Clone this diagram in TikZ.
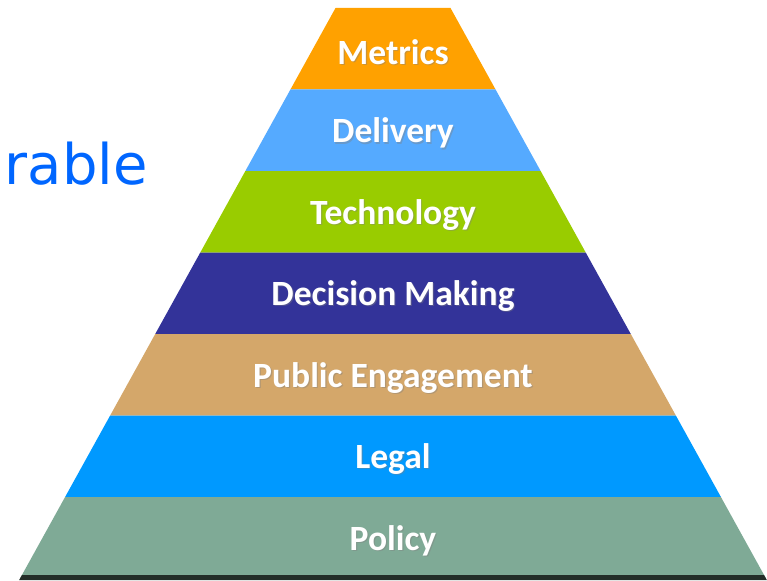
\documentclass[tikz,border=0pt]{standalone}
\usepackage{fontspec}
\setmainfont{Carlito}
\newfontfamily\titlefont{DejaVu Sans}
\definecolor{cMet}{RGB}{255,161,0}
\definecolor{cDel}{RGB}{85,170,255}
\definecolor{cTec}{RGB}{153,204,0}
\definecolor{cDec}{RGB}{51,51,153}
\definecolor{cPub}{RGB}{212,167,106}
\definecolor{cLeg}{RGB}{0,153,255}
\definecolor{cPol}{RGB}{127,170,150}
\definecolor{cBase}{RGB}{35,45,40}
\definecolor{cTitle}{RGB}{0,102,255}
\tikzset{
  layerlabel/.style={text=white, font=\fontsize{35.5}{40}\selectfont\bfseries, inner sep=0pt},
  layershadow/.style={text=black!50, opacity=0.4, font=\fontsize{35.5}{40}\selectfont\bfseries, inner sep=0pt},
  titletext/.style={text=cTitle, font=\titlefont\fontsize{56}{60}\selectfont, inner sep=0pt, anchor=base east}
}
\begin{document}
\begin{tikzpicture}[x=1pt,y=-1pt]
\useasboundingbox (0,0) rectangle (767,580);
\foreach \i/\col/\txt/\nm in {0/cMet/Metrics/metrics,1/cDel/Delivery/delivery,2/cTec/Technology/technology,3/cDec/Decision Making/decision,4/cPub/Public Engagement/public,5/cLeg/Legal/legal,6/cPol/Policy/policy}{
  \pgfmathsetmacro\ya{8+81.5*\i}
  \pgfmathsetmacro\yb{8+81.5*(\i+1)}
  \pgfmathsetmacro\ha{57.5+0.553*(\ya-8)}
  \pgfmathsetmacro\hb{57.5+0.553*(\yb-8)}
  \pgfmathsetmacro\ym{(\ya+\yb)/2+3}
  \fill[\col] (393-\ha,\ya) -- (393+\ha,\ya) -- (393+\hb,\yb) -- (393-\hb,\yb) -- cycle;
  \node[layershadow] (\nm-shadow) at (394.2,\ym+1.2) {\txt};
  \node[layerlabel] (\nm) at (393,\ym) {\txt};
}
% dark base edge
\pgfmathsetmacro\hc{57.5+0.553*(575-8)}
\pgfmathsetmacro\hd{57.5+0.553*(580-8)}
\fill[cBase] (393-\hc,575) -- (393+\hc,575) -- (393+\hd,580) -- (393-\hd,580) -- cycle;
\node[titletext] (title) at (148,184) {rable};
\end{tikzpicture}
\end{document}
